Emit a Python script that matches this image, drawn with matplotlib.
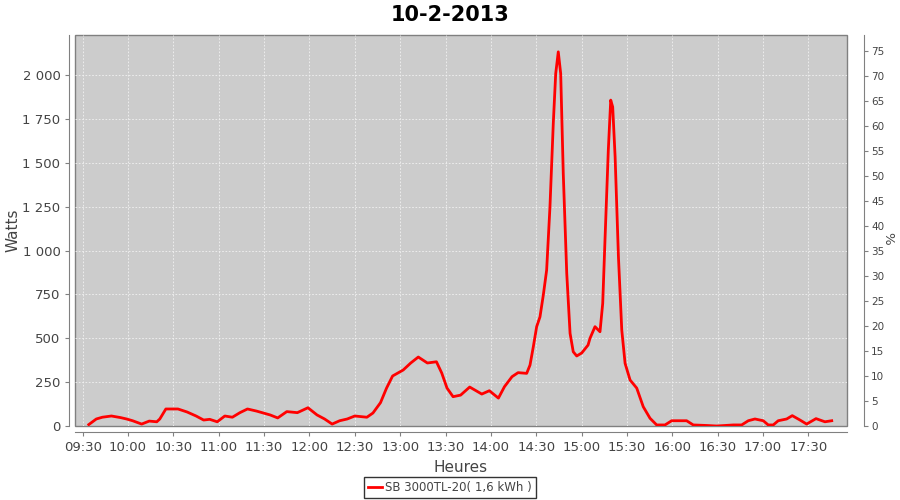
import pandas as pd
import matplotlib
matplotlib.use('Agg')
import matplotlib.pyplot as plt
import matplotlib.dates as mdates
from matplotlib.ticker import FuncFormatter, MultipleLocator

################## data ####################################################

day = '2013-02-10'
heures = ['09:34', '09:39', '09:43', '09:49', '09:55', '09:59', '10:03', '10:09', '10:14', '10:19',
          '10:21', '10:25', '10:33', '10:39', '10:45', '10:50', '10:54', '10:59', '11:04', '11:09',
          '11:14', '11:19', '11:25', '11:34', '11:39', '11:45', '11:52', '11:59', '12:05', '12:10',
          '12:15', '12:20', '12:25', '12:30', '12:38', '12:42', '12:47', '12:51', '12:55', '13:02',
          '13:07', '13:12', '13:18', '13:24', '13:27:30', '13:31', '13:35', '13:40', '13:46', '13:54',
          '13:59', '14:05', '14:09', '14:14', '14:18', '14:23:42', '14:25:54', '14:28:06', '14:30:18',
          '14:32:30', '14:34:42', '14:36:54', '14:39:06', '14:41:18', '14:42:54', '14:44:36', '14:46:12',
          '14:47:54', '14:50:12', '14:52:24', '14:54:30', '14:56:48', '15:00:06', '15:04:18', '15:05:36',
          '15:08:54', '15:12:12', '15:14:00', '15:15:30', '15:17:42', '15:19:18', '15:20:36', '15:22:12',
          '15:24:24', '15:26:36', '15:28:48', '15:32:06', '15:36:30', '15:40:48', '15:45:18', '15:49:42',
          '15:55:12', '15:59:36', '16:09:30', '16:13:54', '16:22:48', '16:29:24', '16:40:24', '16:45:54',
          '16:50:18', '16:54:42', '17:00:12', '17:03:30', '17:06:48', '17:10:06', '17:15:42', '17:19:24',
          '17:24:30', '17:28:54', '17:35:06', '17:41:00', '17:45:30']
watts = [8, 40, 50, 57, 48, 40, 30, 11, 28, 24,
         40, 97, 97, 80, 57, 34, 38, 24, 57, 50,
         76, 97, 85, 63, 46, 82, 76, 104, 63, 40,
         11, 30, 40, 57, 50, 74, 133, 216, 285, 319,
         359, 393, 359, 366, 302, 216, 167, 176, 222, 182,
         201, 159, 224, 281, 304, 300, 347, 452, 566,
         622, 746, 888, 1249, 1724, 2008, 2132, 2008,
         1439, 870, 528, 423, 399, 416, 461, 500,
         566, 537, 699, 1059, 1572, 1857, 1818, 1534,
         964, 547, 357, 262, 216, 110, 44, 6,
         6, 30, 30, 6, 3, 0, 6, 6,
         30, 40, 30, 6, 6, 30, 40, 59,
         34, 11, 42, 24, 30]

titre = '10-2-2013'
serie = 'SB 3000TL-20( 1,6 kWh )'

################## plot ###################################################

t = pd.to_datetime([day + ' ' + h for h in heures], format='mixed')

grey = '#808080'
txt = '#444444'

fig = plt.figure(figsize=(9, 5), dpi=100)
ax = fig.add_axes([75/900, 1-426/500, (847-75)/900, (426-35)/500])
ax.set_facecolor('#cccccc')
ax.patch.set_edgecolor(grey)
ax.patch.set_linewidth(1)

line, = ax.plot(t, watts, color='red', lw=2, label=serie, zorder=3)

ax.set_xlim(pd.Timestamp(day + ' 09:24:54'), pd.Timestamp(day + ' 17:55:36'))
ax.set_ylim(0, 2228)
ax.xaxis.set_major_locator(mdates.MinuteLocator(byminute=[0, 30]))
ax.xaxis.set_major_formatter(mdates.DateFormatter('%H:%M'))
ax.yaxis.set_major_locator(MultipleLocator(250))
ax.yaxis.set_major_formatter(FuncFormatter(lambda v, p: '{:,.0f}'.format(v).replace(',', ' ')))
ax.grid(True, color='#f2f2f2', ls=(0, (2, 2)), lw=0.6, zorder=0)

for s in ['top', 'right']:
    ax.spines[s].set_visible(False)
for s in ['left', 'bottom']:
    ax.spines[s].set_position(('outward', 4))
    ax.spines[s].set_color(grey)
ax.tick_params(colors=grey, labelcolor=txt, labelsize=9.5, length=3)
ax.set_ylabel('Watts', fontsize=11, color=txt)
ax.yaxis.set_label_coords(-0.071, 0.5)
ax.set_xlabel('Heures', fontsize=11, color=txt)
ax.xaxis.set_label_coords(0.5, -0.087)

ax2 = ax.twinx()
ax2.set_ylim(0, 78.2)
ax2.yaxis.set_major_locator(MultipleLocator(5))
for s in ['top', 'left', 'bottom']:
    ax2.spines[s].set_visible(False)
ax2.spines['right'].set_position(('outward', 12))
ax2.spines['right'].set_color(grey)
ax2.tick_params(colors=grey, labelcolor=txt, labelsize=7.5, length=3, pad=2.5)
# right axis title, drawn as figure text so it clears the tick labels
fig.text(888/900, 1-238/500, '%', fontsize=9.5, color=txt, rotation=270,
         ha='center', va='center')

fig.suptitle(titre, x=0.5, y=0.99, fontsize=15, fontweight='bold')

leg = fig.legend(handles=[line], loc='center', bbox_to_anchor=(450/900, 1-487.5/500),
                 fontsize=8.5, frameon=True, fancybox=False, handlelength=1.2,
                 handletextpad=0.3, borderpad=0.3, labelcolor=txt)
leg.get_frame().set_edgecolor('black')
leg.get_frame().set_linewidth(1)

plt.savefig('out.png', dpi=100)
